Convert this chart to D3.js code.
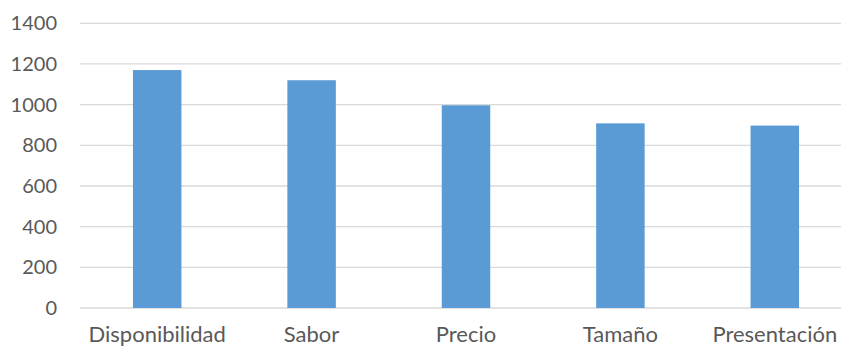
<!DOCTYPE html>
<html><head><meta charset="utf-8">
<script src="https://cdn.jsdelivr.net/npm/d3@7"></script>
<style>body{margin:0;background:#fff}svg{display:block}</style>
</head><body>
<script>
const categories = ["Disponibilidad","Sabor","Precio","Tamaño","Presentación"];
const values = [1170, 1120, 997, 908, 897];
const yTicks = [0,200,400,600,800,1000,1200,1400];

const W = 841, H = 349;
const svg = d3.select("body").append("svg").attr("width", W).attr("height", H);
const x = d3.scaleBand().domain(categories).range([80, 852]).paddingInner(0.686).paddingOuter(0.343);
const y = d3.scaleLinear().domain([0, 1400]).range([308, 23.3]);
const font = "Lato, 'Open Sans', sans-serif";

svg.append("g").selectAll("line").data(yTicks).join("line")
  .attr("x1", 80).attr("x2", W).attr("y1", d => y(d)).attr("y2", d => y(d))
  .attr("stroke", "#d9d9d9").attr("stroke-width", 1.3);

svg.append("g").selectAll("text").data(yTicks).join("text")
  .attr("x", 57).attr("y", d => y(d)).attr("dy", "0.35em")
  .attr("text-anchor", "end").attr("font-family", font).attr("font-size", 20)
  .attr("fill", "#595959").text(d => d);

svg.append("g").selectAll("rect").data(values).join("rect")
  .attr("x", (d, i) => x(categories[i])).attr("width", x.bandwidth())
  .attr("y", d => y(d)).attr("height", d => y(0) - y(d))
  .attr("fill", "#5b9bd5");

svg.append("g").selectAll("text").data(categories).join("text")
  .attr("x", d => x(d) + x.bandwidth() / 2).attr("y", 342)
  .attr("text-anchor", "middle").attr("font-family", font).attr("font-size", 22)
  .attr("fill", "#595959").text(d => d);
</script>
</body></html>
